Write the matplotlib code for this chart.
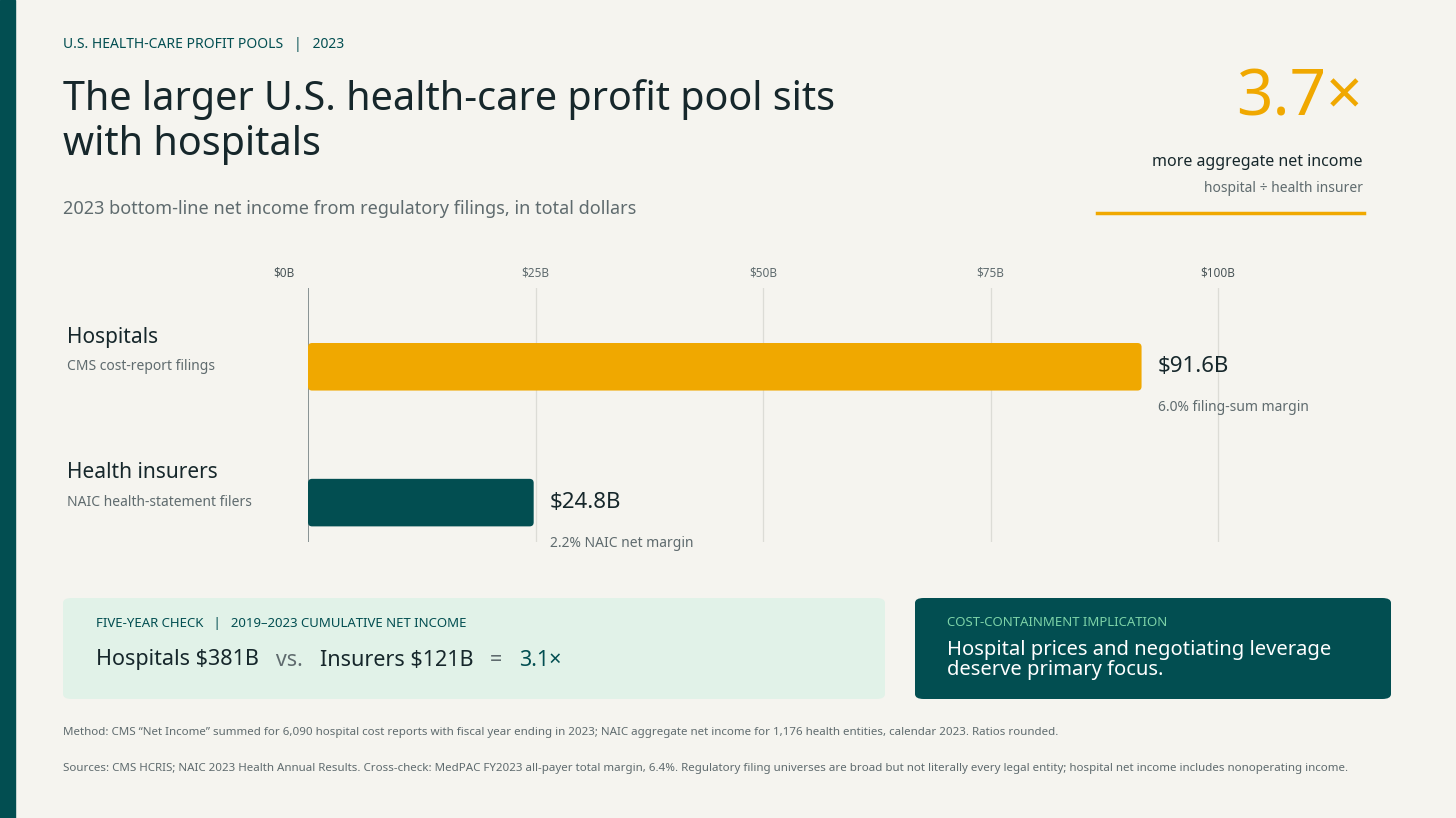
import matplotlib
matplotlib.use("Agg")
import matplotlib.pyplot as plt
from matplotlib.patches import FancyBboxPatch, Rectangle

plt.rcParams['font.family'] = ['Noto Sans', 'DejaVu Sans']

# data
categories = ["Hospitals", "Health insurers"]
sublabels = ["CMS cost-report filings", "NAIC health-statement filers"]
net_income = [91.6, 24.8]  # $B, 2023
value_labels = ["$91.6B", "$24.8B"]
margin_labels = ["6.0% filing-sum margin", "2.2% NAIC net margin"]
ticks = [0, 25, 50, 75, 100]
tick_labels = ["$0B", "$25B", "$50B", "$75B", "$100B"]

BG = "#f5f4ef"
TEAL = "#024e51"
GOLD = "#f0a800"
DARK = "#16272b"
GREY = "#5f6b6e"

W, H = 1456, 818
fig = plt.figure(figsize=(W / 100, H / 100), dpi=100, facecolor=BG)

def fx(px):
    return px / W

def fy(py):
    return 1 - py / H

# left strip
fig.patches.append(Rectangle((0, 0), fx(15), 1, transform=fig.transFigure, color=TEAL))

fig.text(fx(63), fy(44), "U.S. HEALTH-CARE PROFIT POOLS   |   2023", fontsize=10, color=TEAL,
         fontweight="bold", va="center")
fig.text(fx(63), fy(122), "The larger U.S. health-care profit pool sits\nwith hospitals", fontsize=28.5,
         fontweight="bold", color=DARK, va="center", linespacing=1.15)
fig.text(fx(63), fy(209), "2023 bottom-line net income from regulatory filings, in total dollars",
         fontsize=13, color=GREY, va="center")

# callout top-right
fig.text(fx(1363), fy(98), "3.7×", fontsize=46, fontweight="bold", color=GOLD, ha="right", va="center")
fig.text(fx(1363), fy(162), "more aggregate net income", fontsize=11.5, fontweight="bold", color=DARK,
         ha="right", va="center")
fig.text(fx(1363), fy(188), "hospital ÷ health insurer", fontsize=10, color=GREY, ha="right", va="center")
fig.lines.append(plt.Line2D([fx(1097), fx(1364)], [fy(213), fy(213)], transform=fig.transFigure,
                            color=GOLD, lw=2.5))

# chart
ax = fig.add_axes([fx(308), fy(542), fx(1092), (542 - 288) / H])
ax.set_facecolor(BG)
ax.set_xlim(0, 120)
ax.set_ylim(1.29, -0.58)
for s in ax.spines.values():
    s.set_visible(False)
ax.set_yticks([])
ax.set_xticks([])
for t in ticks:
    ax.axvline(t, color="#7f8a8c" if t == 0 else "#dcdcd6", lw=1.3 if t == 0 else 0.9, zorder=0)

colors = [GOLD, TEAL]
bh = 0.35
aspect = (1 / 136) / (1 / 9.1)
for i, v in enumerate(net_income):
    ax.add_patch(FancyBboxPatch((0, i - bh / 2), v, bh, boxstyle="round,pad=0,rounding_size=0.45",
                                mutation_aspect=aspect, fc=colors[i], ec="none", zorder=2))
    ax.text(v + 1.8, i, value_labels[i], fontsize=16, fontweight="bold", color=DARK, va="center")
    ax.text(v + 1.8, i + 0.3, margin_labels[i], fontsize=10, color=GREY, va="center")

for t, lab in zip(ticks, tick_labels):
    bold = t in (0, 100)
    fig.text(fx(308 + t * 9.1) - fx(24) * (1 if t == 0 else 0), fy(273), lab, fontsize=8.5,
             color=GREY if not bold else "#4a5558", fontweight="bold" if bold else "normal",
             ha="center", va="center")

for i, (c, s) in enumerate(zip(categories, sublabels)):
    yc = 337 + i * 136
    fig.text(fx(67), fy(yc), c, fontsize=15, fontweight="bold", color=DARK, va="center")
    fig.text(fx(67), fy(yc + 30), s, fontsize=10, color=GREY, va="center")

# bottom boxes
fig.patches.append(FancyBboxPatch((fx(63), fy(699)), fx(822), (699 - 598) / H, transform=fig.transFigure,
                                  boxstyle="round,pad=0,rounding_size=0.006", fc="#e1f2e8", ec="none"))
fig.text(fx(96), fy(624), "FIVE-YEAR CHECK   |   2019–2023 CUMULATIVE NET INCOME", fontsize=9.5,
         fontweight="bold", color=TEAL, va="center")
x0 = fx(96)
parts = [("Hospitals $381B", DARK, "bold"), ("   vs.   ", GREY, "normal"), ("Insurers $121B", DARK, "bold"),
         ("   =   ", GREY, "normal"), ("3.1×", TEAL, "bold")]
r = fig.canvas.get_renderer()
for txt, col, wt in parts:
    t = fig.text(x0, fy(660), txt, fontsize=15.5, fontweight=wt, color=col, va="center")
    bb = t.get_window_extent(renderer=r)
    x0 += bb.width / W

fig.patches.append(FancyBboxPatch((fx(915), fy(699)), fx(476), (699 - 598) / H, transform=fig.transFigure,
                                  boxstyle="round,pad=0,rounding_size=0.006", fc=TEAL, ec="none"))
fig.text(fx(947), fy(623), "COST-CONTAINMENT IMPLICATION", fontsize=9.5, color="#7dd3a8", va="center")
fig.text(fx(947), fy(660), "Hospital prices and negotiating leverage\ndeserve primary focus.", fontsize=14.5,
         fontweight="bold", color="white", va="center", linespacing=1.0)

fig.text(fx(63), fy(732), "Method: CMS \u201cNet Income\u201d summed for 6,090 hospital cost reports with fiscal year ending in 2023; "
         "NAIC aggregate net income for 1,176 health entities, calendar 2023. Ratios rounded.",
         fontsize=8.3, color=GREY, va="center")
fig.text(fx(63), fy(768), "Sources: CMS HCRIS; NAIC 2023 Health Annual Results. Cross-check: MedPAC FY2023 all-payer total margin, 6.4%. "
         "Regulatory filing universes are broad but not literally every legal entity; hospital net income includes nonoperating income.",
         fontsize=8.3, color=GREY, va="center")

fig.savefig("out.png", dpi=100, facecolor=BG)
